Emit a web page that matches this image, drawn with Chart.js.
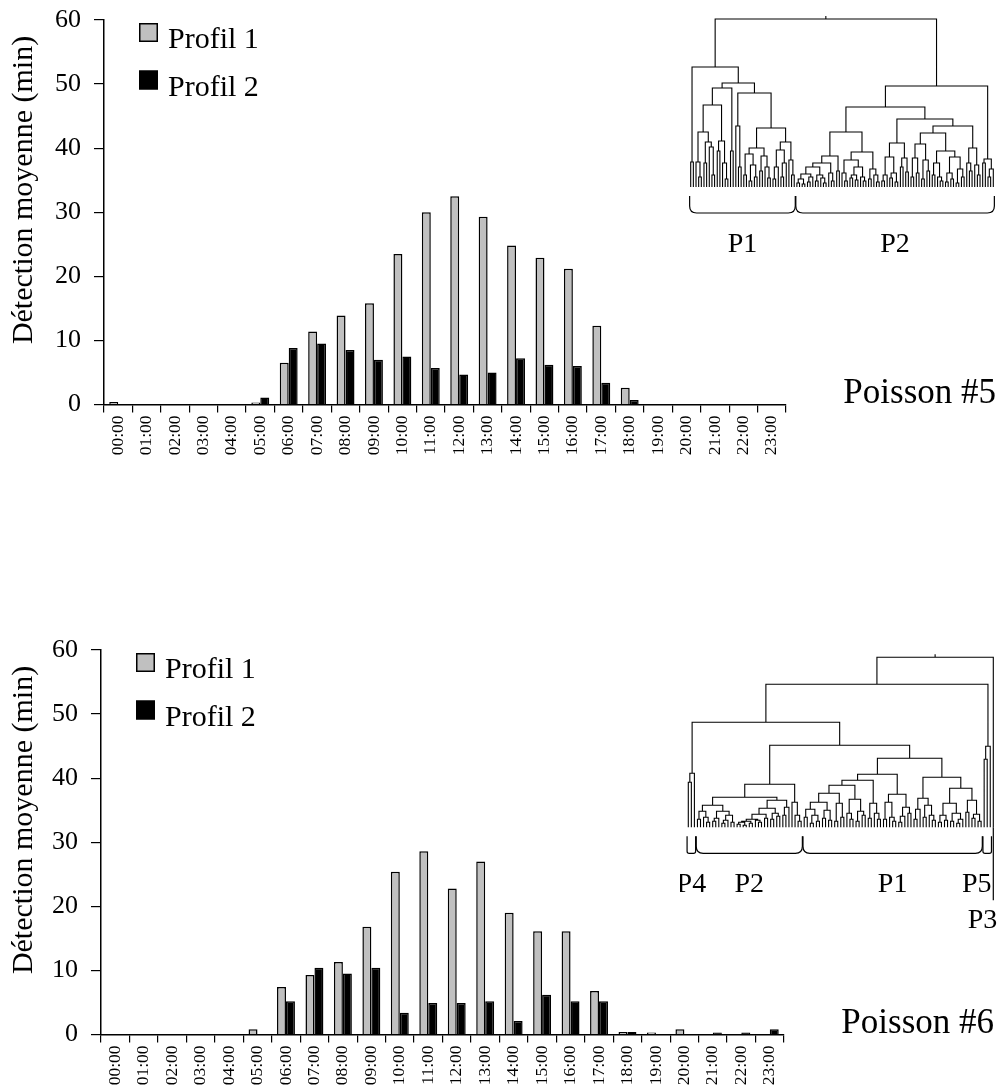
<!DOCTYPE html>
<html>
<head>
<meta charset="utf-8">
<title>Détection moyenne par heure</title>
<script src="https://cdn.jsdelivr.net/npm/chart.js@4.4.0/dist/chart.umd.min.js"></script>
<style>
  html, body { margin: 0; padding: 0; background: #fff; }
  body { width: 1000px; height: 1086px; position: relative; overflow: hidden; }
  canvas { position: absolute; }
</style>
</head>
<body>
<canvas id="chart5" width="1000" height="480" style="left:0;top:0"></canvas>
<canvas id="tree5" width="320" height="270" style="left:680px;top:0"></canvas>
<canvas id="chart6" width="1000" height="480" style="left:0;top:630px"></canvas>
<canvas id="tree6" width="320" height="310" style="left:680px;top:630px"></canvas>
<script>
'use strict';

let hours = ['00:00', '01:00', '02:00', '03:00', '04:00', '05:00', '06:00', '07:00',
  '08:00', '09:00', '10:00', '11:00', '12:00', '13:00', '14:00', '15:00',
  '16:00', '17:00', '18:00', '19:00', '20:00', '21:00', '22:00', '23:00'];
let seriesNames = ['Profil 1', 'Profil 2'];
let yTicks = [0, 10, 20, 30, 40, 50, 60];
let yAxisTitle = 'Détection moyenne (min)';

// Poisson #5
let profil1Fish5 = [0.4, 0, 0, 0, 0, 0.3, 6.5, 11.4, 13.9, 15.8, 23.5, 30.0,
  32.5, 29.3, 24.8, 22.9, 21.2, 12.3, 2.6, 0, 0, 0, 0, 0];
let profil2Fish5 = [0, 0, 0, 0, 0, 1.1, 8.8, 9.5, 8.5, 7.0, 7.5, 5.7,
  4.7, 5.0, 7.2, 6.2, 6.0, 3.4, 0.7, 0, 0, 0, 0, 0];

// Poisson #6
let profil1Fish6 = [0, 0, 0, 0, 0, 0.8, 7.4, 9.3, 11.3, 16.8, 25.4, 28.6,
  22.8, 27.0, 19.0, 16.1, 16.1, 6.8, 0.4, 0.3, 0.8, 0, 0, 0];
let profil2Fish6 = [0, 0, 0, 0, 0, 0, 5.2, 10.4, 9.5, 10.4, 3.4, 4.9,
  4.9, 5.2, 2.1, 6.2, 5.2, 5.2, 0.4, 0, 0, 0.3, 0.3, 0.8];

// clustering trees: '.' is one individual, '(...)h' joins its members at height h
let treeFish5 =
  '(' +
    '((..)25(' +
      '((((.(..)10)25((..)24(.(..)12)40)45)55((..)36(.(..)8)24)46)82(..)36)99' +
      '((.(..)20)61((((..)12((..)6(..)10)22)33((..)16(.(..)9)20)31)39((((..)8.)20((..)10.)24)37(.(..)12)27)45)59)94' +
    ')104)120' +
    '((' +
      '(((((((..)4(..)3)8((..)5.)10)13((..)6(.(..)4)9)12)20(.(..)6)14)24(..)16)31' +
      '(((.(..)6)14(((..)9(..)7)12(.(..)6)10)20)27((..)8(.(..)5)12)18)35)55' +
      '(((((..)6.)12((..)9(..)5)14)30((..)20(..)15)29)44' +
      '(((((..)10(..)14)29((..)8(..)16)27)43(((..)12(.(..)6)10)24(((..)5(..)8)14((..)4(..)10)18)30)36)54' +
      '((.(..)16)24(.(..)12)22)39)61)68' +
    ')80((..)24((..)10.)18)28)101' +
  ')168';
let groupsFish5 = [['P1', 0, 39], ['P2', 40, 114]];

let treeFish6 =
  '(((' +
    '((..)45.)54' +
    '((' +
      '((((..)8(.(..)5)10)16(((..)6.)9(((..)4.)7(..)5)12)16)22' +
      '(((((((..)3(..)2)5(..)4)6(.(..)5)7)8(..)9)13((..)8(..)11)14)19((..)12.)20)27)30' +
      '(.(.(..)6)12)25)43' +
      '((' +
        '((((((..)10((..)4(..)6)12)18((..)9(..)7)17)25((..)6(..)10)24)34((.(..)8)14((..)6(..)12)16)28)42' +
        '((..)9(.(..)8)14)24)47' +
        '(((..)8(.(..)6)10)25(((..)5.)11(..)14)20)33)53' +
      '((((..)8.)18((..)10(.(..)7)12)22)29' +
        '((((..)5(..)7)12((..)6((..)4.)8)14)24((..)15((..)9(..)6)13)27)39)50)69' +
    ')82)105' +
    '((..)68.)81)143' +
  '.)170';
let groupsFish6 = [['P4', 0, 2], ['P2', 3, 37], ['P1', 38, 96], ['P5', 97, 99], ['P3', 100, 100]];

Chart.defaults.font.family = '"Liberation Serif", serif';
Chart.defaults.color = '#000';

// legend, rotated axis title and the fish name
const decorPlugin = {
  id: 'decor',
  afterDraw(chart, args, opts) {
    const ctx = chart.ctx;
    const area = chart.chartArea;
    ctx.save();
    ctx.font = '30px "Liberation Serif"';
    ctx.textBaseline = 'alphabetic';
    ctx.textAlign = 'left';
    chart.data.datasets.forEach((ds, i) => {
      const top = 23 + i * 47.5;
      const left = area.left + 35;
      ctx.fillStyle = ds.backgroundColor;
      ctx.fillRect(left, top, 19, 19);
      ctx.lineWidth = 1.5;
      ctx.strokeStyle = '#000';
      ctx.strokeRect(left + 0.75, top + 0.75, 17.5, 17.5);
      ctx.fillStyle = '#000';
      ctx.fillText(ds.label, area.left + 64, top + 25);
    });

    ctx.save();
    ctx.translate(32, 190);
    ctx.rotate(-Math.PI / 2);
    ctx.textAlign = 'center';
    ctx.fillText(yAxisTitle, 0, 0);
    ctx.restore();

    ctx.font = '35px "Liberation Serif"';
    ctx.textAlign = 'right';
    ctx.fillText(opts.fish, area.right + 210, 403);
    ctx.restore();
  }
};

function barChart(id, values1, values2, fishName, axisLeft, axisRight) {
  return new Chart(document.getElementById(id), {
    type: 'bar',
    data: {
      labels: hours,
      datasets: [
        {
          label: seriesNames[0], data: values1,
          backgroundColor: '#c0c0c0', borderColor: '#000', borderWidth: 1.5,
          categoryPercentage: 0.63, barPercentage: 1
        },
        {
          label: seriesNames[1], data: values2,
          backgroundColor: '#000', borderColor: '#000', borderWidth: 1.5,
          categoryPercentage: 0.63, barPercentage: 1
        }
      ]
    },
    options: {
      responsive: false,
      animation: false,
      events: [],
      layout: { padding: { left: 0, top: 20, right: 1000 - axisRight, bottom: 15.5 } },
      plugins: {
        legend: { display: false },
        tooltip: { enabled: false },
        decor: { fish: fishName }
      },
      scales: {
        x: {
          grid: { drawOnChartArea: false, tickLength: 8, color: '#000', lineWidth: 1.2 },
          border: { color: '#000', width: 1.5 },
          ticks: {
            minRotation: 90, maxRotation: 90, autoSkip: false, padding: 3,
            font: { size: 17.5 }
          },
          afterFit(scale) { scale.height = 60; }
        },
        y: {
          min: yTicks[0],
          max: yTicks[yTicks.length - 1],
          grid: { drawOnChartArea: false, tickLength: 10, color: '#000', lineWidth: 1.2 },
          border: { color: '#000', width: 1.5 },
          // small lineHeight keeps the top label from pushing the plot down
          ticks: { stepSize: yTicks[1] - yTicks[0], padding: 13, font: { size: 26, lineHeight: 0.4 } },
          afterFit(scale) { scale.width = axisLeft; }
        }
      }
    },
    plugins: [decorPlugin]
  });
}

// turns the bracket text into line pieces, leaves numbered left to right
function parseTree(text) {
  let pos = 0;
  let leaves = 0;
  const points = [];
  const gap = () => ({ x: null, y: null });

  function read() {
    if (text[pos] === '.') {
      pos++;
      return { x: leaves++, h: 0 };
    }
    pos++;
    const kids = [];
    while (text[pos] !== ')') kids.push(read());
    pos++;
    const start = pos;
    while (pos < text.length && /\d/.test(text[pos])) pos++;
    const h = Number(text.slice(start, pos));
    const first = kids[0];
    const last = kids[kids.length - 1];
    points.push({ x: first.x, y: first.h }, { x: first.x, y: h },
      { x: last.x, y: h }, { x: last.x, y: last.h }, gap());
    kids.slice(1, -1).forEach(k => points.push({ x: k.x, y: k.h }, { x: k.x, y: h }, gap()));
    return { x: (first.x + last.x) / 2, h: h };
  }

  const root = read();
  points.push({ x: root.x, y: root.h }, { x: root.x, y: root.h + 3 });
  return { points: points, count: leaves };
}

// braces under each group with its name
const bracePlugin = {
  id: 'braces',
  afterDatasetsDraw(chart, args, opts) {
    const ctx = chart.ctx;
    const x = chart.scales.x;
    const base = chart.scales.y.getPixelForValue(0);
    ctx.save();
    ctx.strokeStyle = '#000';
    ctx.fillStyle = '#000';
    ctx.lineWidth = 1.2;
    ctx.font = '28px "Liberation Serif"';
    ctx.textBaseline = 'alphabetic';
    opts.list.forEach(([name, from, to]) => {
      if (from === to) {
        const px = x.getPixelForValue(from);
        ctx.beginPath();
        ctx.moveTo(px, base);
        ctx.lineTo(px, base + 73);
        ctx.stroke();
        ctx.textAlign = 'right';
        ctx.fillText(name, px + 4, base + 101);
        return;
      }
      const x0 = x.getPixelForValue(from - 0.4);
      const x1 = x.getPixelForValue(to + 0.4);
      const y0 = base + 9;
      const y1 = base + 26;
      const r = Math.min(7, (x1 - x0) / 4);
      ctx.beginPath();
      ctx.moveTo(x0, y0);
      ctx.lineTo(x0, y1 - r);
      ctx.quadraticCurveTo(x0, y1, x0 + r, y1);
      ctx.lineTo(x1 - r, y1);
      ctx.quadraticCurveTo(x1, y1, x1, y1 - r);
      ctx.lineTo(x1, y0);
      ctx.stroke();
      const cx = (x0 + x1) / 2;
      const w = ctx.measureText(name).width;
      if (cx + w / 2 > chart.width - 8) {
        ctx.textAlign = 'right';
        ctx.fillText(name, x1, base + 65);
      } else {
        ctx.textAlign = 'center';
        ctx.fillText(name, cx, base + 65);
      }
    });
    ctx.restore();
  }
};

function treeChart(id, text, groups, pad, yMax) {
  const tree = parseTree(text);
  return new Chart(document.getElementById(id), {
    type: 'scatter',
    data: {
      datasets: [{
        data: tree.points,
        showLine: true,
        spanGaps: false,
        borderColor: '#000',
        borderWidth: 1.1,
        pointRadius: 0,
        clip: false
      }]
    },
    options: {
      responsive: false,
      animation: false,
      events: [],
      layout: { padding: pad },
      plugins: {
        legend: { display: false },
        tooltip: { enabled: false },
        braces: { list: groups }
      },
      scales: {
        x: { type: 'linear', min: 0, max: tree.count - 1, display: false },
        y: { min: 0, max: yMax, display: false }
      }
    },
    plugins: [bracePlugin]
  });
}

barChart('chart5', profil1Fish5, profil2Fish5, 'Poisson #5', 104, 786);
barChart('chart6', profil1Fish6, profil2Fish6, 'Poisson #6', 101, 784);
treeChart('tree5', treeFish5, groupsFish5, { left: 10.7, right: 6.7, top: 15, bottom: 83 }, 172);
treeChart('tree6', treeFish6, groupsFish6, { left: 8.3, right: 6.7, top: 24, bottom: 112.7 }, 173.3);
</script>
</body>
</html>
